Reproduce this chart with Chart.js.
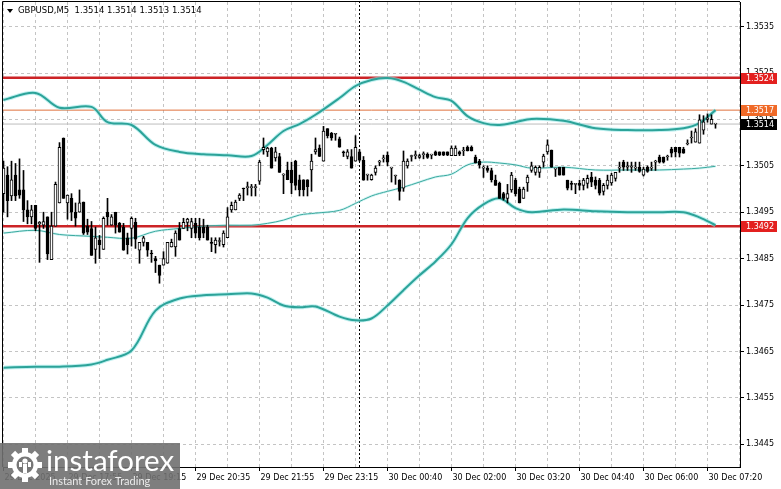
<!DOCTYPE html>
<html>
<head>
<meta charset="utf-8">
<title>GBPUSD,M5</title>
<script src="https://cdn.jsdelivr.net/npm/chart.js@4.4.1/dist/chart.umd.min.js"></script>
<style>
  html, body { margin: 0; padding: 0; background: #fff; }
  canvas { display: block; }
</style>
</head>
<body>
<canvas id="chart" width="781" height="489"></canvas>
<script>
// M5 candles, bar index 0 = first visible bar
const opens = [
  1.34990,1.35030,1.34985,1.35030,1.34998,1.34998,1.34955,1.34940,1.34965,1.34925,
  1.34922,1.34940,1.34848,1.34920,1.34970,1.35110,1.34970,1.34980,1.34950,1.34950,
  1.34972,1.34920,1.34915,1.34870,1.34890,1.34870,1.34950,1.34922,1.34950,1.34926,
  1.34918,1.34895,1.34915,1.34928,1.34868,1.34885,1.34885,1.34862,1.34850,1.34836,
  1.34836,1.34840,1.34875,1.34875,1.34915,1.34915,1.34928,1.34915,1.34926,1.34918,
  1.34918,1.34918,1.34885,1.34880,1.34887,1.34880,1.34895,1.34955,1.34955,1.34980,
  1.35002,1.35003,1.35003,1.35003,1.35017,1.35085,1.35080,1.35088,1.35067,1.35070,
  1.35030,1.35041,1.35041,1.35060,1.35020,1.35020,1.35020,1.35041,1.35080,1.35088,
  1.35060,1.35130,1.35120,1.35118,1.35108,1.35080,1.35070,1.35070,1.35060,1.35080,
  1.35062,1.35030,1.35020,1.35036,1.35058,1.35065,1.35073,1.35045,1.35028,1.35019,
  1.35002,1.35050,1.35070,1.35072,1.35068,1.35074,1.35075,1.35073,1.35080,1.35080,
  1.35080,1.35080,1.35072,1.35072,1.35080,1.35082,1.35090,1.35090,1.35069,1.35060,
  1.35045,1.35045,1.35040,1.35019,1.35012,1.34990,1.34980,1.34998,1.35019,1.35000,
  1.34980,1.35013,1.35040,1.35036,1.35036,1.35058,1.35080,1.35084,1.35043,1.35047,
  1.35047,1.35019,1.35012,1.35010,1.35012,1.35008,1.35012,1.35026,1.35019,1.35019,
  1.34995,1.35008,1.35013,1.35023,1.35045,1.35058,1.35047,1.35047,1.35045,1.35047,
  1.35030,1.35047,1.35045,1.35058,1.35069,1.35069,1.35069,1.35086,1.35090,1.35090,
  1.35086,1.35097,1.35110,1.35101,1.35099,1.35127,1.35150,1.35140,1.35140
];
const highs = [
  1.35060,1.35048,1.35060,1.35055,1.35065,1.35040,1.34975,1.34965,1.34965,1.34930,
  1.34950,1.34940,1.34950,1.35015,1.35100,1.35110,1.34987,1.34990,1.34970,1.34998,
  1.34972,1.34935,1.34930,1.34918,1.34900,1.34940,1.34980,1.34945,1.34950,1.34928,
  1.34926,1.34905,1.34940,1.34937,1.34885,1.34898,1.34885,1.34868,1.34855,1.34836,
  1.34865,1.34885,1.34892,1.34910,1.34928,1.34937,1.34937,1.34937,1.34937,1.34937,
  1.34935,1.34922,1.34895,1.34895,1.34895,1.34910,1.34960,1.34972,1.34976,1.34990,
  1.35002,1.35015,1.35010,1.35010,1.35062,1.35110,1.35090,1.35090,1.35090,1.35077,
  1.35033,1.35058,1.35058,1.35062,1.35030,1.35020,1.35020,1.35075,1.35110,1.35095,
  1.35135,1.35130,1.35122,1.35120,1.35112,1.35082,1.35085,1.35085,1.35115,1.35085,
  1.35070,1.35032,1.35032,1.35050,1.35062,1.35073,1.35080,1.35047,1.35030,1.35020,
  1.35082,1.35065,1.35073,1.35082,1.35075,1.35080,1.35078,1.35075,1.35082,1.35080,
  1.35080,1.35080,1.35093,1.35093,1.35082,1.35090,1.35093,1.35093,1.35073,1.35064,
  1.35050,1.35050,1.35045,1.35030,1.35015,1.34993,1.35010,1.35036,1.35023,1.35004,
  1.35004,1.35030,1.35058,1.35050,1.35050,1.35075,1.35106,1.35084,1.35045,1.35047,
  1.35047,1.35019,1.35017,1.35012,1.35019,1.35023,1.35030,1.35036,1.35026,1.35023,
  1.35012,1.35030,1.35034,1.35036,1.35058,1.35062,1.35058,1.35058,1.35058,1.35058,
  1.35047,1.35050,1.35058,1.35062,1.35073,1.35069,1.35073,1.35090,1.35090,1.35090,
  1.35090,1.35106,1.35125,1.35130,1.35160,1.35158,1.35162,1.35160,1.35140
];
const lows = [
  1.34950,1.34940,1.34975,1.34975,1.34980,1.34930,1.34925,1.34925,1.34910,1.34842,
  1.34915,1.34848,1.34848,1.34920,1.34970,1.34980,1.34935,1.34932,1.34920,1.34950,
  1.34902,1.34902,1.34857,1.34840,1.34850,1.34870,1.34922,1.34922,1.34905,1.34907,
  1.34868,1.34860,1.34877,1.34872,1.34840,1.34877,1.34855,1.34842,1.34820,1.34797,
  1.34836,1.34840,1.34875,1.34855,1.34890,1.34915,1.34910,1.34895,1.34895,1.34890,
  1.34895,1.34890,1.34865,1.34862,1.34877,1.34875,1.34895,1.34950,1.34955,1.34975,
  1.34975,1.34987,1.34985,1.34985,1.35010,1.35075,1.35070,1.35045,1.35060,1.35036,
  1.34990,1.35020,1.34990,1.34998,1.34985,1.34985,1.34985,1.34995,1.35075,1.35070,
  1.35060,1.35110,1.35105,1.35105,1.35090,1.35070,1.35065,1.35045,1.35060,1.35060,
  1.35019,1.35019,1.35019,1.35030,1.35050,1.35058,1.35050,1.35015,1.35010,1.34976,
  1.34995,1.35045,1.35060,1.35065,1.35066,1.35065,1.35066,1.35065,1.35072,1.35072,
  1.35072,1.35072,1.35072,1.35072,1.35072,1.35072,1.35082,1.35082,1.35056,1.35045,
  1.35025,1.35036,1.35015,1.35008,1.34980,1.34976,1.34970,1.34993,1.34985,1.34970,
  1.34980,1.34995,1.35036,1.35030,1.35025,1.35047,1.35075,1.35047,1.35027,1.35030,
  1.35030,1.34998,1.34998,1.34990,1.34998,1.34998,1.35002,1.35005,1.35000,1.34987,
  1.34987,1.35000,1.35008,1.35017,1.35036,1.35040,1.35040,1.35036,1.35040,1.35036,
  1.35028,1.35036,1.35040,1.35040,1.35056,1.35056,1.35062,1.35069,1.35069,1.35069,
  1.35077,1.35095,1.35099,1.35101,1.35099,1.35118,1.35144,1.35140,1.35131
];
const closes = [
  1.35045,1.34975,1.35020,1.34985,1.34987,1.34955,1.34940,1.34955,1.34915,1.34928,
  1.34930,1.34860,1.34920,1.35010,1.35090,1.34980,1.34987,1.34950,1.34937,1.34970,
  1.34905,1.34907,1.34857,1.34895,1.34880,1.34937,1.34940,1.34940,1.34922,1.34907,
  1.34868,1.34880,1.34937,1.34892,1.34885,1.34895,1.34868,1.34860,1.34845,1.34814,
  1.34850,1.34885,1.34885,1.34905,1.34890,1.34928,1.34935,1.34930,1.34905,1.34895,
  1.34905,1.34890,1.34883,1.34890,1.34887,1.34905,1.34940,1.34965,1.34972,1.34987,
  1.35000,1.35003,1.35003,1.35005,1.35058,1.35090,1.35088,1.35045,1.35080,1.35036,
  1.35032,1.35020,1.35013,1.35008,1.34998,1.34998,1.35005,1.35060,1.35085,1.35070,
  1.35125,1.35115,1.35110,1.35118,1.35090,1.35078,1.35080,1.35045,1.35090,1.35062,
  1.35019,1.35030,1.35030,1.35045,1.35058,1.35067,1.35058,1.35045,1.35028,1.34995,
  1.35060,1.35060,1.35070,1.35074,1.35072,1.35075,1.35068,1.35073,1.35073,1.35073,
  1.35073,1.35073,1.35088,1.35088,1.35075,1.35082,1.35082,1.35082,1.35056,1.35052,
  1.35045,1.35040,1.35020,1.35008,1.34980,1.34980,1.34990,1.35030,1.34990,1.34970,
  1.35000,1.35026,1.35050,1.35047,1.35047,1.35071,1.35095,1.35047,1.35043,1.35030,
  1.35030,1.35002,1.35010,1.35010,1.35008,1.35019,1.35023,1.35015,1.35008,1.34991,
  1.35008,1.35019,1.35030,1.35036,1.35047,1.35047,1.35050,1.35050,1.35047,1.35038,
  1.35043,1.35038,1.35047,1.35058,1.35058,1.35058,1.35069,1.35077,1.35080,1.35077,
  1.35077,1.35099,1.35112,1.35123,1.35149,1.35145,1.35153,1.35150,1.35140
];

// Bollinger bands, read at these bar indexes
const bandIdx = [0, 8, 14, 22, 26, 32, 38, 44, 50, 56, 62, 66, 70, 74, 78, 84, 88, 92, 96, 100,
  104, 108, 112, 116, 120, 124, 128, 132, 140, 148, 156, 164, 170, 174, 178];
const bandUpper = [1.35192, 1.35207, 1.35175, 1.35177, 1.35144, 1.35138, 1.35095, 1.35080, 1.35075, 1.35073,
  1.35071, 1.35095, 1.35125, 1.35140, 1.35160, 1.35196, 1.35222, 1.35235, 1.35239, 1.35231,
  1.35214, 1.35198, 1.35190, 1.35157, 1.35142, 1.35138, 1.35144, 1.35151, 1.35147, 1.35131,
  1.35127, 1.35127, 1.35131, 1.35142, 1.35170];
const bandMiddle = [1.34905, 1.34911, 1.34902, 1.34898, 1.34896, 1.34894, 1.34909, 1.34915, 1.34920, 1.34922,
  1.34922, 1.34926, 1.34933, 1.34944, 1.34948, 1.34954, 1.34969, 1.34985, 1.34995, 1.35004,
  1.35015, 1.35026, 1.35032, 1.35052, 1.35058, 1.35056, 1.35052, 1.35045, 1.35047, 1.35041,
  1.35041, 1.35041, 1.35043, 1.35045, 1.35049];
const bandLower = [1.34615, 1.34617, 1.34617, 1.34622, 1.34632, 1.34652, 1.34738, 1.34764, 1.34771, 1.34773,
  1.34775, 1.34766, 1.34749, 1.34745, 1.34747, 1.34725, 1.34717, 1.34721, 1.34749, 1.34782,
  1.34814, 1.34844, 1.34881, 1.34937, 1.34967, 1.34980, 1.34959, 1.34950, 1.34956, 1.34952,
  1.34950, 1.34950, 1.34950, 1.34939, 1.34922];

// horizontal levels and their price tags
const levels = [1.3524, 1.3517, 1.3514, 1.3492];
const levelColors = ['#cc2326', '#e0703c', '#bdbdbd', '#cc2326'];
const levelWidths = [2.5, 1, 1, 2.5];
const tagColors = ['#e3201f', '#f06a28', '#000000', '#e3201f'];

// axes
const yTicks = [1.3445, 1.3455, 1.3465, 1.3475, 1.3485, 1.3495, 1.3505, 1.3515, 1.3525, 1.3535];
const xLabels = ['29 Dec 2025', '29 Dec 17:55', '29 Dec 19:15', '29 Dec 20:35', '29 Dec 21:55', '29 Dec 23:15',
  '30 Dec 00:40', '30 Dec 02:00', '30 Dec 03:20', '30 Dec 04:40', '30 Dec 06:00', '30 Dec 07:20'];
const daySeparator = 89; // 30 Dec 00:00
const title = 'GBPUSD,M5  1.3514 1.3514 1.3513 1.3514';

const X_MIN = -0.125, X_MAX = 184.125;
const Y_MIN = 1.34401, Y_MAX = 1.35403;

Chart.defaults.font.family = 'DejaVu Sans';
Chart.defaults.font.size = 8;
Chart.defaults.color = '#000';

const idx = opens.map((o, i) => i);
const bodies = idx.map(i => ({ x: i, y: [Math.min(opens[i], closes[i]), Math.max(opens[i], closes[i])] }));
const wicks = idx.map(i => ({ x: i, y: [lows[i], highs[i]] }));
const bodyFill = idx.map(i => closes[i] >= opens[i] ? '#ffffff' : '#000000');

function band(values, width, color, order) {
    return {
        type: 'line',
        data: bandIdx.map((x, k) => ({ x: x, y: values[k] })),
        borderColor: color,
        borderWidth: width,
        pointRadius: 0,
        tension: 0.35,
        order: order
    };
}

const datasets = [
    { // wicks
        type: 'bar',
        data: wicks,
        backgroundColor: '#000',
        borderWidth: 0,
        barThickness: 1,
        grouped: false,
        order: 3
    },
    { // bodies
        type: 'bar',
        data: bodies,
        backgroundColor: bodyFill,
        borderColor: '#000',
        borderWidth: 1,
        borderSkipped: false,
        barThickness: 3,
        minBarLength: 1,
        grouped: false,
        order: 2
    },
    band(bandUpper, 4, 'rgba(150,230,230,0.6)', 7),
    band(bandLower, 4, 'rgba(150,230,230,0.6)', 7),
    band(bandMiddle, 2.5, 'rgba(160,230,230,0.45)', 7),
    band(bandUpper, 2, '#2ca399', 6),
    band(bandLower, 2, '#2ca399', 6),
    band(bandMiddle, 1, '#3aa99e', 6),
    {
        type: 'line',
        data: [{ x: daySeparator, y: Y_MIN }, { x: daySeparator, y: Y_MAX }],
        borderColor: '#000',
        borderWidth: 1,
        borderDash: [2, 2],
        pointRadius: 0,
        order: 9
    }
];
levels.forEach((lv, k) => {
    datasets.push({
        type: 'line',
        data: [{ x: X_MIN, y: lv }, { x: X_MAX, y: lv }],
        borderColor: levelColors[k],
        borderWidth: levelWidths[k],
        pointRadius: 0,
        order: 8
    });
});

function drawGear(c, cx, cy) {
    c.save();
    c.translate(cx, cy);
    c.fillStyle = '#fff';
    for (let k = 0; k < 8; k++) {
        c.save();
        c.rotate(k * Math.PI / 4);
        c.fillRect(-3, -17, 6, 6);
        c.restore();
    }
    c.beginPath();
    c.arc(0, 0, 13, 0, Math.PI * 2);
    c.fill();
    c.fillStyle = '#777';
    c.beginPath();
    c.arc(0, 0, 8.5, 0, Math.PI * 2);
    c.fill();
    c.fillStyle = '#fff';
    c.beginPath();
    c.arc(0, -4, 2.6, 0, Math.PI * 2);
    c.fill();
    c.fillRect(-2, -1, 4, 9);
    c.fillRect(-6, -3, 3, 5);
    c.fillRect(3, -3, 3, 5);
    c.restore();
}

const overlay = {
    id: 'overlay',
    afterDraw(chart) {
        const c = chart.ctx;
        const a = chart.chartArea;
        const y = chart.scales.y;
        c.save();
        // frame
        c.strokeStyle = '#000';
        c.lineWidth = 1;
        c.beginPath();
        c.moveTo(a.left - 0.5, a.bottom);
        c.lineTo(a.left - 0.5, a.top - 0.5);
        c.lineTo(a.right, a.top - 0.5);
        c.stroke();

        // title
        c.fillStyle = '#000';
        c.beginPath();
        c.moveTo(7, 9);
        c.lineTo(13, 9);
        c.lineTo(10, 13);
        c.closePath();
        c.fill();
        c.font = '8.5px "DejaVu Sans"';
        c.textBaseline = 'middle';
        c.fillText(title, 18, 11);

        // price tags
        c.font = '8px "DejaVu Sans"';
        levels.forEach((lv, k) => {
            const py = y.getPixelForValue(lv);
            c.fillStyle = tagColors[k];
            c.fillRect(a.right + 1, Math.round(py) - 5, 36, 11);
            c.fillStyle = '#fff';
            c.fillText(lv.toFixed(4), a.right + 6, Math.round(py) + 0.5);
        });

        // watermark
        c.fillStyle = 'rgba(112,112,112,0.9)';
        c.fillRect(0, 443, 180, 46);
        drawGear(c, 25, 465);
        c.fillStyle = '#fff';
        c.textBaseline = 'alphabetic';
        c.font = '28px Lato';
        const w = c.measureText('instaforex').width;
        c.font = (28 * 128 / w).toFixed(1) + 'px Lato';
        c.fillText('instaforex', 46, 471);
        c.fillStyle = 'rgba(255,255,255,0.85)';
        c.font = '11px Lato';
        c.fillText('Instant Forex Trading', 49, 485);
        c.restore();
    }
};

function zeroPad(s) {
    s.paddingTop = 0;
    s.paddingBottom = 0;
    s.paddingLeft = 0;
    s.paddingRight = 0;
}

new Chart(document.getElementById('chart').getContext('2d'), {
    type: 'bar',
    data: { datasets: datasets },
    options: {
        responsive: false,
        animation: false,
        events: [],
        layout: { padding: { left: 3, top: 2, right: 0, bottom: 0 } },
        plugins: {
            legend: { display: false },
            tooltip: { enabled: false }
        },
        scales: {
            x: {
                type: 'linear',
                min: X_MIN,
                max: X_MAX,
                offset: false,
                grid: {
                    offset: false,
                    color: '#c4c4c4',
                    tickLength: 4,
                    tickColor: ctx => ctx.index % 2 === 0 ? '#000' : 'rgba(0,0,0,0)'
                },
                border: { color: '#000', dash: [3, 3] },
                ticks: {
                    align: 'start',
                    autoSkip: false,
                    maxRotation: 0,
                    minRotation: 0,
                    padding: 2,
                    labelOffset: 1,
                    callback: (v, i) => i % 2 === 0 ? xLabels[i / 2] : ''
                },
                afterBuildTicks: s => {
                    const t = [];
                    for (let i = 0; i < xLabels.length * 2; i++) t.push({ value: i * 8 });
                    s.ticks = t;
                },
                afterFit: s => { s.height = 22; zeroPad(s); }
            },
            y: {
                position: 'right',
                min: Y_MIN,
                max: Y_MAX,
                grid: { color: '#c4c4c4', tickLength: 4, tickColor: '#000' },
                border: { color: '#000', dash: [3, 3] },
                ticks: {
                    padding: 2,
                    callback: v => v.toFixed(4)
                },
                afterBuildTicks: s => { s.ticks = yTicks.map(v => ({ value: v })); },
                afterFit: s => { s.width = 41; zeroPad(s); }
            }
        }
    },
    plugins: [overlay]
});
</script>
</body>
</html>
